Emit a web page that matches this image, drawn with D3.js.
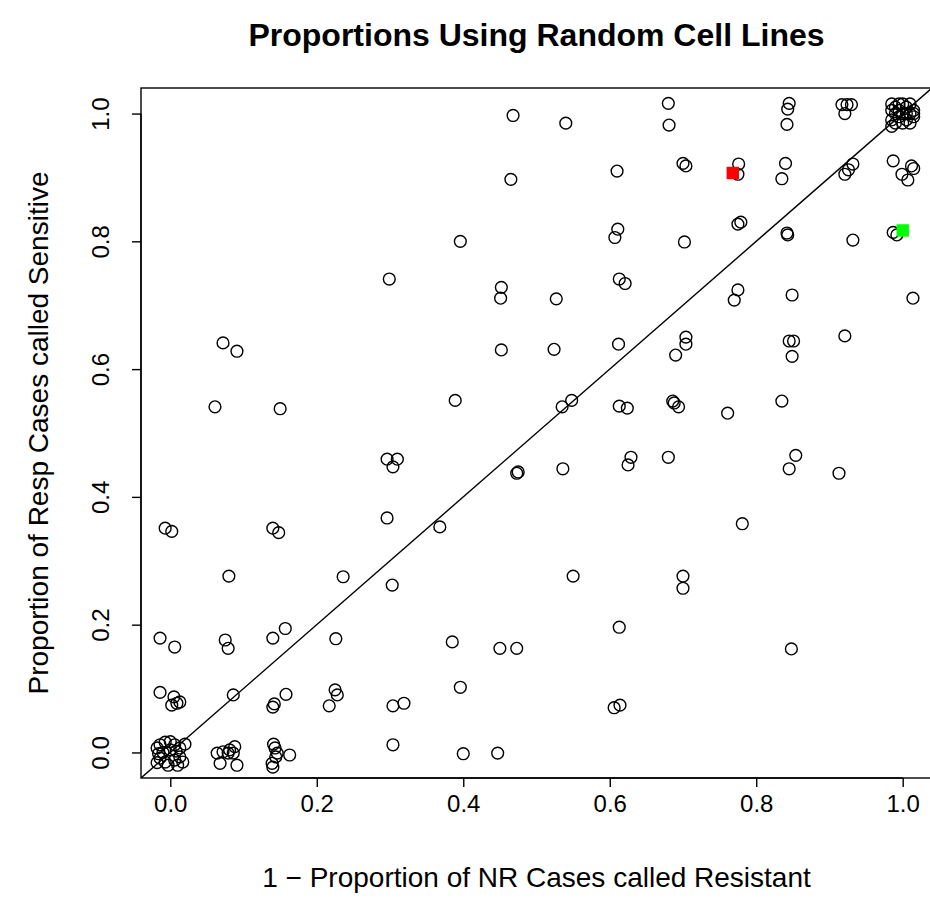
<!DOCTYPE html>
<meta charset="utf-8">
<script src="https://d3js.org/d3.v7.min.js"></script>
<style>
  body { margin: 0; background: #fff; }
  text { font-family: "Liberation Sans", Arial, sans-serif; }
</style>
<div id="my_dataviz"></div>
<script>

// x = 1 - proportion of NR cases called resistant, y = proportion of resp cases called sensitive
var cellX = [
  0.468, 0.465, 0.396, 0.299, 0.452, 0.451, 0.680, 0.681, 0.540, 0.610, 0.700, 0.704, 0.776, 0.775,
  0.611, 0.607, 0.702, 0.775, 0.779, 0.613, 0.621, 0.527, 0.770, 0.775,
  0.845, 0.843, 0.842, 0.917, 0.924, 0.930, 0.921, 0.840, 0.835, 0.932, 0.926, 0.921,
  0.987, 1.012, 1.015, 0.999, 1.007, 0.842, 0.843, 0.932, 0.987, 0.992, 0.849, 1.014,
  0.985, 0.990, 0.985, 0.985, 0.990, 0.995, 1.000, 1.005, 1.010, 1.015, 1.000, 1.005, 0.995, 1.010,
  1.015, 0.990, 1.000, 1.005, 1.010, 0.985, 0.995, 1.015,
  0.072, 0.091, 0.061, 0.150, -0.007, 0.002, 0.140, 0.148, 0.452, 0.389, 0.296, 0.310, 0.304,
  0.473, 0.475, 0.296, 0.368, 0.524, 0.612, 0.704, 0.704, 0.690, 0.535, 0.548, 0.613, 0.624,
  0.686, 0.688, 0.694, 0.761, 0.536, 0.629, 0.625, 0.680, 0.781, 0.845, 0.851, 0.849, 0.921,
  0.835, 0.854, 0.845, 0.913,
  0.080, -0.014, 0.006, 0.075, 0.079, 0.140, 0.157, 0.236, 0.226, -0.014, 0.005, 0.013, 0.002,
  0.009, 0.086, 0.142, 0.140, 0.158, 0.217, 0.225, 0.228, 0.303, 0.385, 0.450, 0.473, 0.396,
  0.304, 0.319, 0.304, 0.400, 0.447, 0.550, 0.700, 0.700, 0.613, 0.848, 0.606, 0.614,
  -0.018, -0.014, -0.007, 0.000, 0.006, 0.013, 0.013, 0.006, -0.007, -0.014, -0.018, 0.000,
  0.020, 0.017, -0.003, 0.010, -0.010, 0.008, -0.016,
  0.064, 0.072, 0.079, 0.088, 0.086, 0.068, 0.091, 0.081,
  0.143, 0.146, 0.163, 0.139, 0.140, 0.144, 0.141
];
var cellY = [
  0.997, 0.897, 0.800, 0.741, 0.728, 0.711, 1.016, 0.982, 0.985, 0.910, 0.922, 0.918, 0.921, 0.905,
  0.819, 0.806, 0.799, 0.827, 0.830, 0.741, 0.734, 0.710, 0.708, 0.724,
  1.016, 1.007, 0.983, 1.014, 1.014, 1.014, 1.000, 0.922, 0.898, 0.921, 0.912, 0.905,
  0.926, 0.918, 0.914, 0.905, 0.896, 0.813, 0.810, 0.802, 0.814, 0.810, 0.716, 0.711,
  1.015, 1.010, 0.990, 0.980, 1.000, 1.005, 1.015, 1.010, 1.000, 0.995, 0.985, 0.990, 0.995, 1.015,
  1.005, 0.985, 1.000, 1.000, 0.985, 1.005, 1.015, 1.000,
  0.641, 0.628, 0.541, 0.538, 0.351, 0.346, 0.351, 0.344, 0.630, 0.551, 0.459, 0.459, 0.447,
  0.437, 0.439, 0.367, 0.353, 0.631, 0.639, 0.650, 0.639, 0.622, 0.541, 0.551, 0.542, 0.539,
  0.550, 0.547, 0.541, 0.531, 0.444, 0.462, 0.450, 0.462, 0.358, 0.644, 0.644, 0.620, 0.652,
  0.550, 0.465, 0.444, 0.437,
  0.276, 0.179, 0.165, 0.176, 0.163, 0.179, 0.194, 0.275, 0.178, 0.094, 0.087, 0.079, 0.074,
  0.077, 0.090, 0.076, 0.071, 0.091, 0.073, 0.098, 0.090, 0.262, 0.173, 0.163, 0.163, 0.102,
  0.073, 0.077, 0.012, -0.002, -0.001, 0.276, 0.276, 0.257, 0.196, 0.162, 0.070, 0.074,
  0.007, 0.012, 0.016, 0.017, 0.012, 0.007, -0.007, -0.012, -0.015, -0.009, -0.016, 0.004,
  0.013, -0.015, -0.020, -0.020, 0.000, 0.002, -0.002,
  -0.001, 0.001, -0.001, 0.009, -0.001, -0.017, -0.020, 0.004,
  0.007, -0.001, -0.004, -0.017, -0.023, -0.007, 0.013
];

// the two highlighted lines
var markX = [0.768, 1.000];
var markY = [0.907, 0.817];
var markColor = ["#ff0000", "#00ff00"];

var tickVals = [0, 0.2, 0.4, 0.6, 0.8, 1.0];

var W = 930, H = 917;
var margin = {top: 88, right: -2, bottom: 139, left: 141},
    width = W - margin.left - margin.right,
    height = H - margin.top - margin.bottom;

var svg = d3.select("#my_dataviz")
  .append("svg")
    .attr("width", W)
    .attr("height", H);

var g = svg.append("g")
    .attr("transform", "translate(" + margin.left + "," + margin.top + ")");

var x = d3.scaleLinear().domain([-0.04, 1.04]).range([0, width]);
var y = d3.scaleLinear().domain([-0.04, 1.04]).range([height, 0]);

g.append("clipPath").attr("id", "clip")
  .append("rect").attr("width", width).attr("height", height);

// axes
var xAxis = g.append("g")
  .attr("transform", "translate(0," + height + ")")
  .call(d3.axisBottom(x).tickValues(tickVals).tickFormat(d3.format(".1f")).tickSize(9));
var yAxis = g.append("g")
  .call(d3.axisLeft(y).tickValues(tickVals).tickFormat(d3.format(".1f")).tickSize(9));
[xAxis, yAxis].forEach(function(a) {
  a.select(".domain").attr("d", null);
  a.selectAll("line").attr("stroke", "#000").attr("stroke-width", 1.4);
  a.selectAll("text").style("font-size", "24px").attr("fill", "#000");
});
xAxis.selectAll("text").attr("y", 34).attr("dy", 0);
xAxis.append("line")
  .attr("x1", x(0)).attr("x2", x(1)).attr("stroke", "#000").attr("stroke-width", 1.4);
yAxis.append("line")
  .attr("y1", y(0)).attr("y2", y(1)).attr("stroke", "#000").attr("stroke-width", 1.4);
yAxis.selectAll("text")
  .attr("transform", "rotate(-90)")
  .attr("x", 0)
  .attr("y", -32)
  .attr("dy", 0)
  .style("text-anchor", "middle");

// plot box
g.append("rect")
  .attr("width", width).attr("height", height)
  .attr("fill", "none").attr("stroke", "#000").attr("stroke-width", 1.4);

var plot = g.append("g").attr("clip-path", "url(#clip)");

// y = x reference line
plot.append("line")
  .attr("x1", x(-0.04)).attr("y1", y(-0.04))
  .attr("x2", x(1.04)).attr("y2", y(1.04))
  .attr("stroke", "#000").attr("stroke-width", 1.4);

// open circles
plot.selectAll("circle")
  .data(cellX)
  .enter().append("circle")
    .attr("cx", function(d) { return x(d); })
    .attr("cy", function(d, i) { return y(cellY[i]); })
    .attr("r", 5.9)
    .attr("fill", "none")
    .attr("stroke", "#000")
    .attr("stroke-width", 1.4);

// filled squares
plot.selectAll("rect.mark")
  .data(markX)
  .enter().append("rect")
    .attr("class", "mark")
    .attr("x", function(d) { return x(d) - 6.2; })
    .attr("y", function(d, i) { return y(markY[i]) - 6.2; })
    .attr("width", 12.4).attr("height", 12.4)
    .attr("fill", function(d, i) { return markColor[i]; });

// titles
svg.append("text")
  .attr("x", margin.left + x(0.5)).attr("y", 46)
  .attr("text-anchor", "middle")
  .style("font-size", "32px").style("font-weight", "bold")
  .text("Proportions Using Random Cell Lines");

svg.append("text")
  .attr("x", margin.left + x(0.5)).attr("y", 887)
  .attr("text-anchor", "middle")
  .style("font-size", "28px")
  .text("1 \u2212 Proportion of NR Cases called Resistant");

svg.append("text")
  .attr("transform", "translate(48," + (margin.top + y(0.5)) + ") rotate(-90)")
  .attr("text-anchor", "middle")
  .style("font-size", "28px")
  .text("Proportion of Resp Cases called Sensitive");

</script>
